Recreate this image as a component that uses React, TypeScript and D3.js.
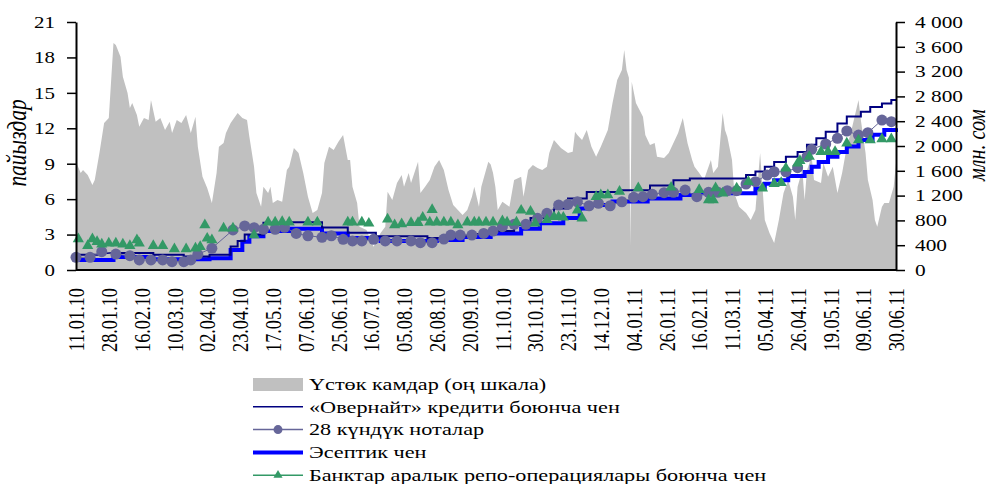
import { useEffect, useRef } from 'react'
import * as d3 from 'd3'

// trading-day index (0..350), labels every 14 trading days
const LAST_DAY = 350
const LABEL_STEP = 14
const X_LABELS = [
  '11.01.10', '28.01.10', '16.02.10', '10.03.10', '02.04.10', '23.04.10', '17.05.10',
  '07.06.10', '25.06.10', '16.07.10', '05.08.10', '26.08.10', '20.09.10', '11.10.10',
  '30.10.10', '23.11.10', '14.12.10', '04.01.11', '26.01.11', '16.02.11', '11.03.11',
  '05.04.11', '26.04.11', '19.05.11', '09.06.11', '30.06.11',
]
const LEFT_TICKS = [0, 3, 6, 9, 12, 15, 18, 21]
const RIGHT_TICKS = [0, 400, 800, 1200, 1600, 2000, 2400, 2800, 3200, 3600, 4000]

// excess reserves, mln som (right scale): [day, value]
const reserves: [number, number][] = [
  [0, 1747], [2, 1565], [3, 1613], [5, 1532], [7, 1371], [8, 1452], [10, 1887], [12, 2371],
  [14, 2452], [16, 3661], [17, 3629], [19, 3441], [20, 3118], [22, 2855], [23, 2613], [24, 2694],
  [26, 2500], [27, 2311], [29, 2452], [31, 2420], [32, 2742], [34, 2392], [36, 2452], [38, 2258],
  [40, 2392], [41, 2210], [43, 2420], [45, 2371], [47, 2500], [49, 2210], [51, 2473], [52, 1989],
  [54, 1505], [56, 1323], [58, 1081], [60, 1565], [61, 1989], [63, 2049], [64, 2210], [66, 2371],
  [69, 2532], [71, 2452], [73, 2420], [74, 2150], [76, 1666], [77, 1242], [79, 1021], [80, 1344],
  [82, 1242], [83, 1344], [84, 1081], [86, 1129], [88, 1102], [90, 1613], [91, 1666], [93, 1968],
  [95, 1887], [97, 1565], [99, 1183], [101, 919], [103, 968], [105, 1242], [106, 1726], [108, 1989],
  [110, 1936], [112, 2070], [114, 2178], [116, 1774], [117, 1774], [118, 1344], [120, 1081], [121, 698],
  [124, 645], [127, 376], [130, 597], [132, 698], [133, 1263], [135, 1129], [137, 1403], [139, 1532],
  [140, 1344], [142, 1565], [143, 1403], [146, 1747], [147, 1242], [149, 1344], [151, 1452], [153, 1666],
  [155, 1774], [157, 1613], [159, 1290], [161, 1048], [163, 968], [165, 887], [167, 968], [169, 1183],
  [170, 1344], [172, 1021], [173, 1344], [175, 1613], [176, 1747], [177, 1700], [178, 1565], [179, 1344],
  [180, 968], [182, 1102], [185, 1021], [187, 1452], [190, 1505], [191, 1183], [193, 1613], [195, 1694],
  [197, 1645], [199, 1613], [201, 1666], [202, 1887], [204, 2097], [207, 1968], [210, 1887], [212, 1908],
  [213, 2231], [214, 2178], [216, 2097], [218, 2258], [220, 1989], [222, 1828], [224, 1989], [227, 2258],
  [229, 2694], [231, 3065], [233, 3226], [234, 3549], [235, 3226], [236, 3100], [236.6, 380], [237.2, 3037],
  [239, 2694], [242, 2473], [243, 2178], [245, 2017], [247, 2049], [248, 1828], [251, 1806], [253, 1887],
  [255, 2049], [257, 2210], [259, 2452], [261, 2049], [263, 1774], [264, 1666], [266, 1565], [268, 1452],
  [271, 1774], [272, 1565], [274, 1666], [276, 2532], [277, 2258], [278, 2150], [280, 1774], [281, 1242],
  [283, 1021], [286, 919], [288, 806], [290, 968], [292, 1887], [294, 806], [296, 597], [298, 435],
  [300, 806], [302, 1242], [304, 1452], [306, 1183], [307, 806], [308, 1344], [310, 1613], [311, 1129],
  [312, 1613], [314, 1828], [315, 1452], [318, 1403], [319, 1726], [321, 1505], [323, 1666], [325, 1242],
  [327, 1565], [329, 1989], [331, 2258], [333, 2581], [334, 2742], [335, 2420], [337, 1887], [338, 1452],
  [340, 1129], [341, 806], [342, 698], [344, 1021], [345, 1081], [347, 1081], [349, 1344], [350, 1726],
]

// overnight credit rate, %: step changes [day, value]
const overnight: [number, number][] = [
  [0, 1.3], [10, 1.45], [33, 1.3], [46, 1.15], [57, 1.3], [66, 2.0], [69, 2.45], [72, 3.0],
  [80, 4.0], [91, 4.05], [105, 3.6], [116, 3.15], [128, 2.85], [150, 2.7], [158, 2.75], [164, 2.9],
  [170, 3.05], [178, 3.3], [187, 3.8], [194, 4.4], [204, 5.2], [210, 6.05], [218, 6.6], [232, 6.75],
  [245, 7.15], [255, 7.6], [262, 7.75], [286, 8.05], [290, 8.35], [294, 8.75], [298, 9.15], [303, 9.6],
  [308, 10.0], [312, 10.6], [316, 11.15], [320, 11.7], [325, 12.4], [329, 13.0], [335, 13.4], [339, 13.8],
  [344, 14.1], [348, 14.4],
]

// 28-day notes yield, %
const notes: [number, number][] = [
  [0, 1.07], [6, 1.07], [11, 1.55], [17, 1.35], [23, 1.21], [27, 0.85], [32, 0.85], [37, 0.85],
  [41, 0.7], [46, 0.7], [49, 0.85], [52, 1.33], [58, 1.84], [67, 3.39], [72, 3.73], [76, 3.58],
  [80, 3.45], [85, 3.45], [89, 3.62], [94, 3.1], [99, 2.9], [105, 2.77], [109, 2.9], [114, 2.6],
  [118, 2.46], [122, 2.46], [127, 2.6], [132, 2.46], [137, 2.46], [143, 2.46], [147, 2.31], [152, 2.31],
  [157, 2.62], [160, 2.96], [164, 2.96], [169, 2.96], [174, 3.1], [178, 3.3], [182, 3.67], [187, 3.87],
  [192, 3.87], [197, 4.38], [201, 4.8], [206, 5.5], [210, 5.56], [214, 5.78], [219, 5.44], [223, 5.65],
  [228, 5.44], [233, 5.78], [238, 6.16], [242, 6.21], [246, 6.41], [251, 6.55], [255, 6.58], [260, 6.77],
  [265, 6.21], [270, 6.58], [274, 6.58], [278, 6.72], [282, 6.72], [286, 7.28], [290, 7.48], [295, 8.04],
  [298, 8.32], [303, 8.32], [308, 8.66], [312, 9.6], [314, 10.22], [320, 10.67], [325, 11.15], [329, 11.77],
  [334, 11.43], [338, 11.63], [344, 12.7], [348, 12.56],
]

// discount rate, %: step changes
const discount: [number, number][] = [
  [0, 0.85], [16, 1.1], [33, 0.9], [57, 1.0], [66, 1.7], [71, 2.4], [74, 2.85], [80, 3.3],
  [91, 3.5], [105, 3.1], [116, 2.7], [130, 2.45], [154, 2.55], [165, 2.8], [177, 3.1], [190, 3.5],
  [198, 3.95], [208, 4.4], [215, 5.2], [218, 5.5], [229, 5.8], [244, 6.05], [258, 6.35], [266, 6.5],
  [290, 6.9], [294, 7.3], [298, 7.6], [304, 7.95], [311, 8.3], [314, 8.75], [317, 9.15], [321, 9.6],
  [325, 10.0], [329, 10.45], [334, 11.0], [340, 11.45], [345, 11.85], [350, 12.0],
]

// interbank repo rate, %
const repo: [number, number][] = [
  [1, 2.62], [5, 2.06], [7, 2.62], [9, 2.4], [11, 2.18], [14, 2.26], [17, 2.26], [20, 2.18],
  [23, 2.06], [26, 2.54], [27, 2.26], [33, 2.06], [37, 2.06], [42, 1.78], [47, 1.78], [51, 1.84],
  [53, 1.97], [55, 3.81], [56, 2.68], [58, 2.54], [63, 3.53], [67, 3.53], [76, 2.96], [82, 4.04],
  [85, 4.04], [88, 4.09], [91, 4.04], [99, 4.04], [103, 4.04], [116, 4.04], [118, 4.04], [122, 4.04],
  [125, 3.95], [133, 4.3], [136, 3.81], [139, 3.9], [143, 4.0], [146, 4.0], [148, 4.45], [151, 4.04],
  [152, 5.1], [154, 4.04], [157, 4.04], [160, 4.04], [163, 3.81], [167, 4.04], [170, 4.04], [172, 4.04],
  [175, 4.04], [178, 4.04], [182, 4.15], [184, 4.04], [188, 4.04], [190, 5.05], [194, 4.95], [196, 3.95],
  [201, 4.25], [204, 4.5], [206, 4.5], [208, 4.46], [214, 5.05], [216, 4.38], [222, 6.21], [224, 6.35],
  [227, 6.35], [232, 6.65], [240, 6.95], [254, 7.0], [266, 6.8], [270, 5.93], [272, 5.93], [273, 6.95],
  [276, 6.5], [282, 6.92], [287, 7.48], [293, 6.92], [298, 7.3], [301, 7.39], [303, 8.61], [308, 9.03],
  [309, 9.25], [313, 9.6], [318, 10.02], [321, 10.02], [324, 10.02], [329, 10.73], [334, 11.0], [339, 11.0],
  [344, 11.1], [348, 11.1],
]

const LEGEND = [
  'Үстөк камдар (оң шкала)',
  '«Овернайт» кредити боюнча чен',
  '28 күндүк ноталар',
  'Эсептик чен',
  'Банктар аралык репо-операциялары боюнча чен',
]

const GRAY = '#c0c0c0'
const NAVY = '#000080'
const NOTE = '#666699'
const BLUE = '#0000ff'
const GREEN = '#339966'
const FONT = 'Liberation Serif, Times New Roman, Times, serif'
// the source picture is stretched sideways, so glyphs are widened too
const SX = 1.27

export default function App() {
  const ref = useRef<SVGSVGElement>(null)

  useEffect(() => {
    if (!ref.current) return
    const svg = d3.select(ref.current)
    svg.selectAll('*').remove()

    const width = 991
    const height = 484
    const left = 76, right = 896, top = 22, bottom = 270

    const x = d3.scaleLinear().domain([0, LAST_DAY]).range([left, right])
    const yL = d3.scaleLinear().domain([0, 21]).range([bottom, top])
    const yR = d3.scaleLinear().domain([0, 4000]).range([bottom, top])

    svg.attr('width', width).attr('height', height).attr('font-family', FONT)

    // reserves area
    const area = d3.area<[number, number]>()
      .x(d => x(d[0])).y0(yR(0)).y1(d => yR(d[1]))
    svg.append('path').attr('d', area(reserves)!).attr('fill', GRAY)

    const stepLine = d3.line<[number, number]>()
      .x(d => x(d[0])).y(d => yL(d[1])).curve(d3.curveStepAfter)
    const extend = (pts: [number, number][]): [number, number][] =>
      pts[pts.length - 1][0] < LAST_DAY ? [...pts, [LAST_DAY, pts[pts.length - 1][1]]] : pts

    // discount rate
    svg.append('path').attr('d', stepLine(extend(discount))!)
      .attr('fill', 'none').attr('stroke', BLUE).attr('stroke-width', 4)

    // overnight
    svg.append('path').attr('d', stepLine(extend(overnight))!)
      .attr('fill', 'none').attr('stroke', NAVY).attr('stroke-width', 2)

    // notes
    const line = d3.line<[number, number]>().x(d => x(d[0])).y(d => yL(d[1]))
    svg.append('path').attr('d', line(notes)!)
      .attr('fill', 'none').attr('stroke', NOTE).attr('stroke-width', 1)
    svg.append('g').selectAll('circle').data(notes).join('circle')
      .attr('cx', d => x(d[0])).attr('cy', d => yL(d[1])).attr('r', 5.5)
      .attr('fill', NOTE)

    // repo
    const tri = d3.symbol().type(d3.symbolTriangle).size(54)
    svg.append('g').selectAll('path').data(repo).join('path')
      .attr('d', tri()!)
      .attr('transform', d => `translate(${x(d[0])},${yL(d[1])})`)
      .attr('fill', GREEN)

    // axes
    const styleAxis = (g: d3.Selection<SVGGElement, unknown, null, undefined>, shift: number, size: number) => {
      g.attr('font-family', FONT).attr('font-size', size)
      g.selectAll('.domain').attr('stroke', '#000').attr('stroke-width', 2)
      g.selectAll('.tick line').attr('stroke', '#000').attr('stroke-width', 1.5)
      g.selectAll('.tick text').attr('fill', '#000').attr('x', 0)
        .attr('transform', `translate(${shift},0) scale(${SX},1)`)
    }

    const gl = svg.append('g').attr('transform', `translate(${left},0)`)
      .call(d3.axisLeft(yL).tickValues(LEFT_TICKS).tickSize(9).tickSizeOuter(0))
    styleAxis(gl, -21, 16.5)

    const fmt = d3.formatLocale({ decimal: '.', thousands: ' ', grouping: [3], currency: ['', ''] }).format(',')
    const gr = svg.append('g').attr('transform', `translate(${right},0)`)
      .call(d3.axisRight(yR).tickValues(RIGHT_TICKS).tickSize(9).tickSizeOuter(0)
        .tickFormat(d => fmt(d as number)))
    styleAxis(gr, 19, 16.8)

    svg.append('line')
      .attr('x1', left).attr('x2', right).attr('y1', bottom).attr('y2', bottom)
      .attr('stroke', '#000').attr('stroke-width', 2)

    svg.append('g').selectAll('text').data(X_LABELS).join('text')
      .attr('transform', (_, i) => `translate(${x(i * LABEL_STEP)},${bottom + 18}) scale(${SX},1) rotate(-90)`)
      .attr('text-anchor', 'end').attr('dy', '0.35em')
      .attr('font-size', 18.3).attr('fill', '#000')
      .text(d => d)

    // axis titles
    svg.append('text')
      .attr('transform', `translate(26,143) scale(${SX},1) rotate(-90)`)
      .attr('text-anchor', 'middle').attr('font-style', 'italic').attr('font-size', 21.5)
      .text('пайыздар')
    svg.append('text')
      .attr('transform', `translate(985,145) scale(${SX},1) rotate(-90)`)
      .attr('text-anchor', 'middle').attr('font-style', 'italic').attr('font-size', 20)
      .text('млн. сом')

    // legend
    const lg = svg.append('g').attr('transform', 'translate(253,384)')
    const rowH = 22.8
    LEGEND.forEach((label, i) => {
      const row = lg.append('g').attr('transform', `translate(0,${i * rowH})`)
      if (i === 0) {
        row.append('rect').attr('x', 0).attr('y', -6).attr('width', 50).attr('height', 13).attr('fill', GRAY)
      } else {
        const color = [NAVY, NOTE, BLUE, GREEN][i - 1]
        row.append('line').attr('x1', 0).attr('x2', 50).attr('y1', 0).attr('y2', 0)
          .attr('stroke', color).attr('stroke-width', i === 3 ? 4 : 1.5)
        if (i === 2) row.append('circle').attr('cx', 25).attr('cy', 0).attr('r', 4.5).attr('fill', NOTE)
        if (i === 4) row.append('path').attr('d', d3.symbol().type(d3.symbolTriangle).size(36)()!)
          .attr('transform', 'translate(25,0)').attr('fill', GREEN)
      }
      row.append('text').attr('transform', `translate(56,0) scale(${SX},1)`).attr('dy', '0.33em')
        .attr('font-size', 17.5).attr('fill', '#000').text(label)
    })
  }, [])

  return (
    <div style={{ position: 'absolute', left: 0, top: 0 }}>
      <svg ref={ref} />
    </div>
  )
}
